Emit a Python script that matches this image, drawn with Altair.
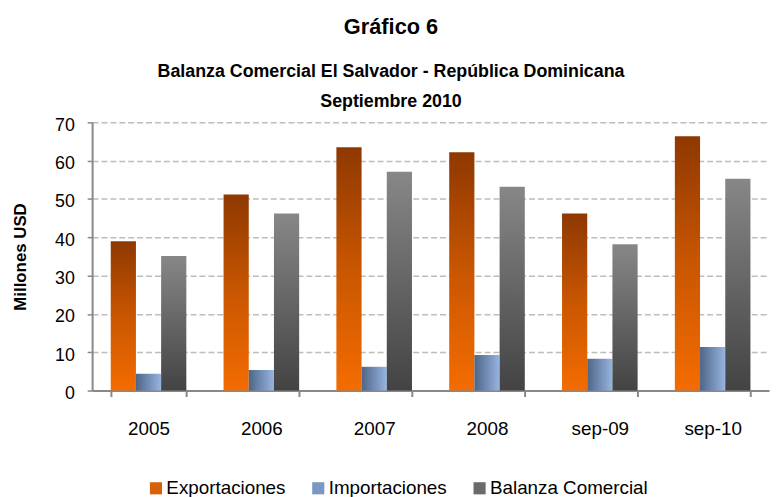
import altair as alt
import pandas as pd

periodos = ["2005", "2006", "2007", "2008", "sep-09", "sep-10"]
exportaciones = [39.0, 51.2, 63.5, 62.2, 46.2, 66.4]
importaciones = [4.4, 5.4, 6.2, 9.3, 8.3, 11.4]
balanza = [35.1, 46.2, 57.1, 53.2, 38.2, 55.3]
series = ["Exportaciones", "Importaciones", "Balanza Comercial"]
legend_colors = ["#D9600A", "#7A97C2", "#6B6B6B"]
y_ticks = [0, 10, 20, 30, 40, 50, 60, 70]

rows = []
for i, p in enumerate(periodos):
    for s, vals in zip(series, [exportaciones, importaciones, balanza]):
        rows.append({"Periodo": p, "Serie": s, "Valor": vals[i]})
df = pd.DataFrame(rows)

FONT = "Liberation Sans"

grad_exp = alt.LinearGradient(
    gradient="linear", x1=0, x2=0, y1=0, y2=1,
    stops=[alt.GradientStop(offset=0, color="#8E3800"),
           alt.GradientStop(offset=0.5, color="#C95600"),
           alt.GradientStop(offset=1, color="#F46C00")])
grad_imp = alt.LinearGradient(
    gradient="linear", x1=0, x2=1, y1=0, y2=0,
    stops=[alt.GradientStop(offset=0, color="#4E6586"),
           alt.GradientStop(offset=1, color="#97B5E2")])
grad_bal = alt.LinearGradient(
    gradient="linear", x1=0, x2=0, y1=0, y2=1,
    stops=[alt.GradientStop(offset=0, color="#878787"),
           alt.GradientStop(offset=1, color="#434343")])
grads = [grad_exp, grad_imp, grad_bal]

x_enc = alt.X(
    "Periodo:N", sort=periodos, title=None,
    scale=alt.Scale(paddingInner=0.33, paddingOuter=0.165),
    axis=alt.Axis(labelAngle=0, labelFont=FONT, labelFontSize=19, labelColor="#000000",
                  labelPadding=23, tickBand="extent", tickSize=6, tickColor="#888888",
                  tickWidth=2, domainColor="#888888", domainWidth=2, grid=False))
xoff_enc = alt.XOffset("Serie:N", sort=series,
                       scale=alt.Scale(domain=series, paddingInner=0, paddingOuter=0))
y_enc = alt.Y(
    "Valor:Q", title="Millones USD",
    scale=alt.Scale(domain=[0, 70], nice=False),
    axis=alt.Axis(values=y_ticks, labelFont=FONT, labelFontSize=18, labelColor="#000000",
                  labelPadding=13, labelOffset=3, tickSize=5, tickColor="#888888",
                  tickWidth=1.5, domainColor="#888888", domainWidth=2,
                  grid=True, gridDash=[6, 3], gridColor="#BDBDBD", gridWidth=1.5,
                  titleFont=FONT, titleFontSize=17, titleFontWeight="bold",
                  titleColor="#000000", titleX=-72, titleY=135.5, titleAngle=270,
                  titleAlign="center", titleBaseline="middle"))

base = alt.Chart(df).encode(x=x_enc, xOffset=xoff_enc, y=y_enc)

legend_layer = base.mark_bar(opacity=0).encode(
    color=alt.Color("Serie:N", sort=series,
                    scale=alt.Scale(domain=series, range=legend_colors),
                    legend=alt.Legend(orient="none", legendX=55, legendY=360,
                                      direction="horizontal", title=None,
                                      symbolType="square", symbolSize=150,
                                      symbolOpacity=1, symbolStrokeWidth=0,
                                      symbolOffset=0,
                                      labelFont=FONT, labelFontSize=19,
                                      labelColor="#000000", labelOffset=1,
                                      columnPadding=23)))

layers = [legend_layer]
for s, g in zip(series, grads):
    layers.append(base.transform_filter(alt.datum.Serie == s).mark_bar(color=g))

chart = alt.layer(*layers).properties(
    width=684, height=271,
    padding={"left": 85, "top": 113, "right": 6, "bottom": 106},
    autosize=alt.AutoSizeParams(type="none"),
    title=alt.TitleParams(
        text="Gráfico 6",
        subtitle=["Balanza Comercial El Salvador - República Dominicana", "Septiembre 2010"],
        font=FONT, fontSize=22, fontWeight="bold", color="#000000",
        subtitleFont=FONT, subtitleFontSize=18, subtitleFontWeight="bold",
        subtitleColor="#000000", subtitleLineHeight=30, subtitlePadding=24,
        anchor="middle", dx=-40, offset=5)
).configure_view(stroke=None)

chart.save("out.html", embed_options={"renderer": "svg", "actions": False})
